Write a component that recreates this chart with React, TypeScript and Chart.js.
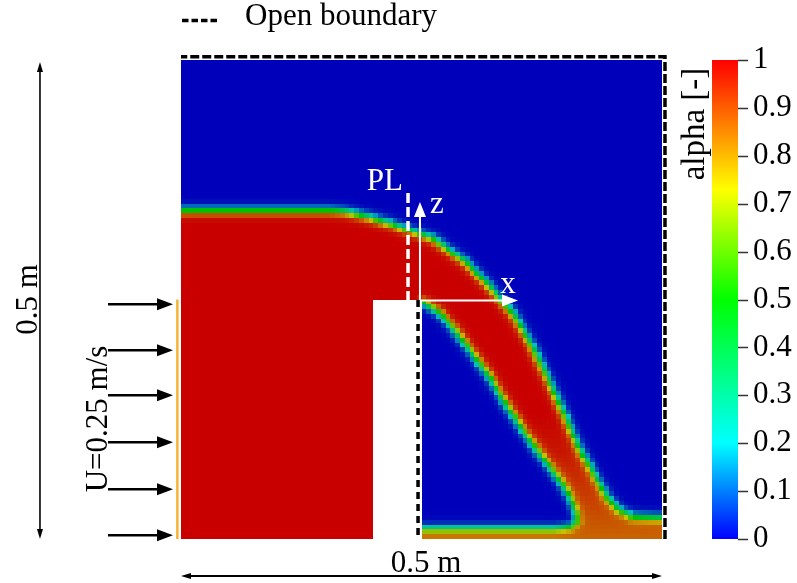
import { useEffect, useRef } from "react";
import { Chart, registerables } from "chart.js";

Chart.register(...registerables);

// ---- Mesh and geometry (metres) ----
const DOMAIN = 0.5;
const CELLS = 100;
const CELL = DOMAIN / CELLS;
const WEIR_X0 = 0.2;
const WEIR_X1 = 0.25;
const WEIR_H = 0.25;

// Reservoir free surface and upper nappe surface (alpha = 0.5 contour)
const upperSurfaceX = [0, 0.155, 0.1705, 0.1965, 0.2173, 0.238, 0.262, 0.2744, 0.2952, 0.3139, 0.3295, 0.3441, 0.3545, 0.3649, 0.3815, 0.3971, 0.4127, 0.4324, 0.4428, 0.4543, 0.4699, 0.5];
const upperSurfaceZ = [0.3425, 0.3425, 0.3413, 0.3351, 0.3288, 0.3215, 0.3132, 0.3038, 0.2891, 0.2704, 0.2526, 0.2359, 0.2182, 0.2004, 0.166, 0.1315, 0.096, 0.0616, 0.0438, 0.0303, 0.023, 0.0219];

// Lower nappe surface, from the weir crest down to the thin bed layer
const lowerSurfaceX = [0.2526, 0.2692, 0.2848, 0.2983, 0.3108, 0.3233, 0.3337, 0.3441, 0.3555, 0.368, 0.3805, 0.394, 0.4044, 0.4106, 0.4116, 0.4044, 0.3888, 0.25];
const lowerSurfaceZ = [0.2474, 0.2359, 0.2182, 0.2004, 0.1837, 0.166, 0.1482, 0.1315, 0.1138, 0.096, 0.0793, 0.0616, 0.0438, 0.0271, 0.0188, 0.0125, 0.0104, 0.0104];

// Peak volume fraction in the falling jet / downstream bed layer by height
const jetCoreZ = [0, 0.03, 0.09, 0.13];
const jetCoreAlpha = [0.86, 0.9, 0.97, 1];

// Interface half-thickness (m)
const INTERFACE_W = 0.0024;

// Colour bar
const colorbarTicks = [0, 0.1, 0.2, 0.3, 0.4, 0.5, 0.6, 0.7, 0.8, 0.9, 1];
const cmapStops = [0, 0.2, 0.5, 0.73, 1];
const cmapColors: [number, number, number][] = [
  [0, 0, 255],
  [0, 255, 255],
  [0, 255, 0],
  [255, 255, 0],
  [255, 0, 0],
];
const FIELD_SHADE = [0.785, 0.76, 0.73];

// Inlet velocity arrows (heights, m)
const inletArrowZ = [0.245, 0.197, 0.15, 0.101, 0.052, 0.004];

// Open boundaries (right and top walls, weir downstream face)
const openTopRight = [
  { x: 0.5031, y: 0 },
  { x: 0.5031, y: 0.5034 },
  { x: 0, y: 0.5034 },
];
const openWeirFace = [
  { x: 0.2464, y: 0.2495 },
  { x: 0.2464, y: 0 },
];
const inletLine = [
  { x: -0.0038, y: 0 },
  { x: -0.0038, y: 0.25 },
];

const FONT = '31px "Liberation Serif"';

type Cell = { x: number; y: number; v: number };

function interp(v: number, xs: number[], ys: number[]) {
  if (v <= xs[0]) return ys[0];
  for (let i = 1; i < xs.length; i++) {
    if (v <= xs[i]) {
      const t = (v - xs[i - 1]) / (xs[i] - xs[i - 1]);
      return ys[i - 1] + t * (ys[i] - ys[i - 1]);
    }
  }
  return ys[ys.length - 1];
}

function segDist(px: number, py: number, ax: number, ay: number, bx: number, by: number) {
  const dx = bx - ax, dy = by - ay;
  const l2 = dx * dx + dy * dy;
  const t = l2 > 0 ? Math.max(0, Math.min(1, ((px - ax) * dx + (py - ay) * dy) / l2)) : 0;
  return Math.hypot(ax + t * dx - px, ay + t * dy - py);
}

function polylineDist(px: number, py: number, xs: number[], ys: number[]) {
  let d = Infinity;
  for (let i = 1; i < xs.length; i++) d = Math.min(d, segDist(px, py, xs[i - 1], ys[i - 1], xs[i], ys[i]));
  return d;
}

function insidePoly(px: number, py: number, poly: [number, number][]) {
  let inside = false;
  for (let i = 0, j = poly.length - 1; i < poly.length; j = i++) {
    const [xi, yi] = poly[i];
    const [xj, yj] = poly[j];
    if (yi > py !== yj > py && px < ((xj - xi) * (py - yi)) / (yj - yi) + xi) inside = !inside;
  }
  return inside;
}

function buildCells(): Cell[] {
  const water: [number, number][] = [];
  upperSurfaceX.forEach((x, i) => water.push([x, upperSurfaceZ[i]]));
  water.push([DOMAIN, 0], [WEIR_X1, 0]);
  for (let i = lowerSurfaceX.length - 1; i >= 0; i--) water.push([lowerSurfaceX[i], lowerSurfaceZ[i]]);
  water.push([WEIR_X1, WEIR_H], [WEIR_X0, WEIR_H], [WEIR_X0, 0], [0, 0]);

  const cells: Cell[] = [];
  for (let j = 0; j < CELLS; j++) {
    for (let i = 0; i < CELLS; i++) {
      const cx = (i + 0.5) * CELL;
      const cz = (j + 0.5) * CELL;
      if (cx > WEIR_X0 && cx < WEIR_X1 && cz < WEIR_H) continue;
      const d = Math.min(
        polylineDist(cx, cz, upperSurfaceX, upperSurfaceZ),
        polylineDist(cx, cz, lowerSurfaceX, lowerSurfaceZ)
      );
      const s = insidePoly(cx, cz, water) ? d : -d;
      const frac = 1 / (1 + Math.exp(-s / INTERFACE_W));
      const core = cx < WEIR_X1 ? 1 : interp(cz, jetCoreZ, jetCoreAlpha);
      cells.push({ x: cx, y: cz, v: core * frac });
    }
  }
  return cells;
}

function cmap(v: number): [number, number, number] {
  const t = Math.max(0, Math.min(1, v));
  for (let i = 1; i < cmapStops.length; i++) {
    if (t <= cmapStops[i]) {
      const f = (t - cmapStops[i - 1]) / (cmapStops[i] - cmapStops[i - 1]);
      const a = cmapColors[i - 1], b = cmapColors[i];
      return [a[0] + f * (b[0] - a[0]), a[1] + f * (b[1] - a[1]), a[2] + f * (b[2] - a[2])];
    }
  }
  return cmapColors[cmapColors.length - 1];
}

function fieldColor(v: number) {
  const c = cmap(v);
  return `rgb(${Math.round(c[0] * FIELD_SHADE[0])},${Math.round(c[1] * FIELD_SHADE[1])},${Math.round(c[2] * FIELD_SHADE[2])})`;
}

function drawArrow(ctx: CanvasRenderingContext2D, x0: number, y0: number, x1: number, y1: number, head: number, half: number, lw: number, color: string, both = false) {
  const ang = Math.atan2(y1 - y0, x1 - x0);
  const c = Math.cos(ang), s = Math.sin(ang);
  const ex = x1 - c * head, ey = y1 - s * head;
  const sx = both ? x0 + c * head : x0, sy = both ? y0 + s * head : y0;
  ctx.strokeStyle = color;
  ctx.fillStyle = color;
  ctx.lineWidth = lw;
  ctx.setLineDash([]);
  ctx.beginPath();
  ctx.moveTo(sx, sy);
  ctx.lineTo(ex, ey);
  ctx.stroke();
  const tri = (tx: number, ty: number, bx: number, by: number) => {
    ctx.beginPath();
    ctx.moveTo(tx, ty);
    ctx.lineTo(bx - s * half, by + c * half);
    ctx.lineTo(bx + s * half, by - c * half);
    ctx.closePath();
    ctx.fill();
  };
  tri(x1, y1, ex, ey);
  if (both) tri(x0, y0, sx, sy);
}

function verticalText(ctx: CanvasRenderingContext2D, text: string, x: number, y: number) {
  ctx.save();
  ctx.translate(x, y);
  ctx.rotate(-Math.PI / 2);
  ctx.textAlign = "center";
  ctx.textBaseline = "alphabetic";
  ctx.fillText(text, 0, 0);
  ctx.restore();
}

const fieldPlugin = {
  id: "alphaField",
  beforeDatasetsDraw(chart: any) {
    const { ctx } = chart;
    const xs = chart.scales.x, ys = chart.scales.y;
    const cells = chart.data.datasets[0].data as Cell[];
    ctx.save();
    for (const c of cells) {
      const x0 = Math.round(xs.getPixelForValue(c.x - CELL / 2));
      const x1 = Math.round(xs.getPixelForValue(c.x + CELL / 2));
      const y0 = Math.round(ys.getPixelForValue(c.y - CELL / 2));
      const y1 = Math.round(ys.getPixelForValue(c.y + CELL / 2));
      ctx.fillStyle = fieldColor(c.v);
      ctx.fillRect(x0, y1, x1 - x0, y0 - y1);
    }
    ctx.restore();
  },
};

const annotationPlugin = {
  id: "sketchAnnotations",
  afterDatasetsDraw(chart: any) {
    const { ctx, chartArea } = chart;
    const xs = chart.scales.x, ys = chart.scales.y, cb = chart.scales.cb;
    const X = (v: number) => xs.getPixelForValue(v);
    const Y = (v: number) => ys.getPixelForValue(v);
    ctx.save();

    // PL probe line
    ctx.strokeStyle = "#ffffff";
    ctx.lineWidth = 3.5;
    ctx.setLineDash([10, 4]);
    ctx.beginPath();
    ctx.moveTo(X(0.236), Y(0.3612));
    ctx.lineTo(X(0.236), Y(0.2495));
    ctx.stroke();
    ctx.setLineDash([]);

    // local axes at the weir crest
    drawArrow(ctx, X(0.2484), Y(0.2495), X(0.2484), Y(0.3518), 15, 6, 2, "#ffffff");
    drawArrow(ctx, X(0.2484), Y(0.249), X(0.3503), Y(0.249), 16, 6, 2, "#ffffff");

    ctx.font = FONT;
    ctx.fillStyle = "#ffffff";
    ctx.textBaseline = "alphabetic";
    ctx.textAlign = "center";
    ctx.fillText("PL", X(0.212), Y(0.3643));
    ctx.textAlign = "left";
    ctx.fillText("z", X(0.2588), Y(0.3403));
    ctx.textAlign = "center";
    ctx.fillText("x", X(0.34), Y(0.2568));

    // inlet velocity arrows
    for (const z of inletArrowZ) {
      drawArrow(ctx, X(-0.0759), Y(z), X(-0.0083), Y(z), 16, 6, 2.5, "#000000");
    }

    // dimension arrows
    drawArrow(ctx, X(-0.1466), Y(0), X(-0.1466), Y(0.498), 10, 3, 1.6, "#000000", true);
    drawArrow(ctx, X(0), Y(-0.0386), X(0.5), Y(-0.0386), 10, 3, 1.8, "#000000", true);

    ctx.fillStyle = "#000000";
    ctx.font = FONT;
    verticalText(ctx, "0.5 m", X(-0.1497), Y(0.25));
    verticalText(ctx, "U=0.25 m/s", X(-0.0769), Y(0.1253));
    ctx.textAlign = "center";
    ctx.textBaseline = "alphabetic";
    ctx.fillText("0.5 m", X(0.2547), Y(-0.0344));

    // colour bar
    const top = cb.getPixelForValue(1);
    const bottom = cb.getPixelForValue(0);
    const barL = chartArea.right + 50;
    const barR = chartArea.right + 76;
    const grad = ctx.createLinearGradient(0, bottom, 0, top);
    cmapStops.forEach((s, i) => {
      const c = cmapColors[i];
      grad.addColorStop(s, `rgb(${c[0]},${c[1]},${c[2]})`);
    });
    ctx.fillStyle = grad;
    ctx.fillRect(barL, top, barR - barL, bottom - top);
    ctx.strokeStyle = "#333333";
    ctx.lineWidth = 1.5;
    for (const t of colorbarTicks) {
      const py = Math.round(cb.getPixelForValue(t)) + 0.5;
      ctx.beginPath();
      ctx.moveTo(barR, py);
      ctx.lineTo(barR + 10, py);
      ctx.stroke();
    }
    ctx.fillStyle = "#000000";
    ctx.font = '33px "Liberation Serif"';
    verticalText(ctx, "alpha [-]", chartArea.right + 42, chartArea.top + 64);
    ctx.font = FONT;

    // legend entry for the open boundary
    const ds = chart.data.datasets[1];
    ctx.strokeStyle = ds.borderColor;
    ctx.lineWidth = ds.borderWidth;
    ctx.setLineDash([6.5, 3]);
    ctx.beginPath();
    ctx.moveTo(chartArea.left + 1, 20.5);
    ctx.lineTo(chartArea.left + 36, 20.5);
    ctx.stroke();
    ctx.setLineDash([]);
    ctx.fillStyle = "#000000";
    ctx.textAlign = "left";
    ctx.textBaseline = "alphabetic";
    ctx.fillText(ds.label, chartArea.left + 64, 25);

    ctx.restore();
  },
};

export default function App() {
  const canvasRef = useRef<HTMLCanvasElement>(null);

  useEffect(() => {
    document.body.style.margin = "0";
    const canvas = canvasRef.current;
    if (!canvas) return;
    Chart.defaults.font.family = '"Liberation Serif"';

    const cells = buildCells();

    const chart = new Chart(canvas, {
      type: "scatter",
      data: {
        datasets: [
          { label: "alpha", data: cells as any, pointRadius: 0, showLine: false },
          {
            label: "Open boundary",
            data: openTopRight,
            showLine: true,
            borderColor: "#000000",
            borderWidth: 3.5,
            borderDash: [9, 3],
            pointRadius: 0,
            clip: false as any,
          },
          {
            label: "weir face",
            data: openWeirFace,
            showLine: true,
            borderColor: "#000000",
            borderWidth: 3.5,
            borderDash: [7, 5],
            pointRadius: 0,
            clip: false as any,
          },
          {
            label: "inlet",
            data: inletLine,
            showLine: true,
            borderColor: "#f5b335",
            borderWidth: 2.5,
            pointRadius: 0,
            clip: false as any,
          },
        ],
      },
      options: {
        responsive: false,
        animation: false,
        events: [],
        layout: { padding: { left: 181, top: 60, right: 0, bottom: 44 } },
        plugins: { legend: { display: false }, tooltip: { enabled: false } },
        scales: {
          x: { type: "linear", min: 0, max: DOMAIN, display: false },
          y: { type: "linear", min: 0, max: DOMAIN, display: false },
          cb: {
            type: "linear",
            axis: "y",
            position: "right",
            min: 0,
            max: 1,
            grid: { display: false, drawTicks: false },
            border: { display: false },
            ticks: {
              stepSize: 0.1,
              autoSkip: false,
              padding: 91,
              color: "#000000",
              font: { family: '"Liberation Serif"', size: 31 },
              callback: (v: any) => String(Math.round(Number(v) * 10) / 10),
            },
            afterFit: (s: any) => {
              s.width = 135;
              s.paddingTop = 0;
              s.paddingBottom = 0;
            },
          } as any,
        },
      },
      plugins: [fieldPlugin, annotationPlugin],
    });

    return () => chart.destroy();
  }, []);

  return <canvas ref={canvasRef} width={797} height={583} style={{ display: "block" }} />;
}
